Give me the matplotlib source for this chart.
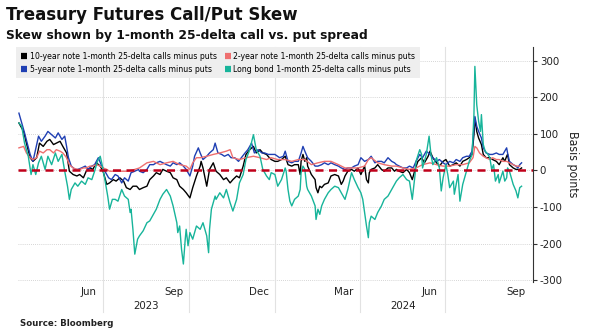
import matplotlib
matplotlib.use("Agg")
import matplotlib.pyplot as plt
import matplotlib.transforms as mtransforms
from matplotlib import font_manager as fm
import pandas as pd

START = "2023-04-02"

# 10-year note (black): day offsets from START and values (bp)
ten_days = [0, 5, 8, 12, 15, 19, 22, 26, 30, 33, 37, 40, 44, 47, 51, 54, 58, 62, 65, 69, 72, 76, 79, 83, 87, 90, 94, 97, 101, 104, 108, 112, 115, 119, 122, 126,
            129, 133, 137, 140, 144, 147, 151, 154, 158, 162, 165, 169, 172, 176, 179, 183, 186, 190, 194, 195, 197, 201, 204, 208, 211, 215, 219, 222, 226, 229, 233, 236, 240, 243, 247, 251, 254, 258, 261, 265, 268,
            270, 274, 277, 281, 285, 288, 292, 295, 299, 301, 302, 304, 306, 308, 309, 313, 317, 318, 320, 322, 324, 327, 331, 334, 338, 342, 345, 347, 349, 352, 356, 359, 363, 366, 370, 372, 374, 375, 377, 381, 384, 388, 391, 395, 399, 402,
            404, 407, 411, 415, 418, 421, 424, 427, 431, 434, 438, 440, 443, 447, 450, 454, 457, 461, 465, 468, 472, 475, 479, 482, 485, 487, 488, 490, 492, 495, 497, 500, 504, 507, 511, 514, 518, 520, 522, 523, 525, 529, 532, 536, 538]
ten_vals = [130, 107, 75, 35, 25, 35, 75, 66, 80, 85, 71, 75, 80, 66, 48, -2, -11, -15, -11, -20, -2, 7, 3, 21, 12, -2, -38, -34, -25, -29, -20, -29, -47, -52, -43, -43,
            -52, -47, -43, -25, -15, -6, -11, 3, -2, -6, -20, -25, -43, -52, -61, -75, -47, -15, 12, 25, 7, -43, 3, 21, -2, -11, -25, -20, -34, -25, -15, -20, 12, 44, 57, 66, 48, 57, 48, 44, 35,
            30, 25, 25, 30, 39, 16, 12, 16, 16, -11, 25, 44, 25, 35, 12, -11, -25, -47, -61, -43, -47, -38, -34, -15, -11, -15, -38, -29, -15, -2, 3, -2, 7, -11, 12, -25, -34, -6, 3, 7, 16, 3, -2, 7, 7, -2,
            3, -2, -6, 3, -6, -25, 3, 25, 35, 21, 39, 53, 35, 21, 12, 25, 30, 12, 16, 21, 12, 25, 30, 35, 44, 98, 144, 107, 89, 71, 44, 35, 35, 30, 25, 16, 35, 25, 39, 44, 16, 7, 3, 3, 7]

# 2-year note (red)
two_days = [0, 5, 8, 12, 15, 19, 22, 26, 30, 33, 37, 40, 44, 47, 51, 54, 58, 62, 65, 69, 72, 76, 79, 83, 87, 90, 94, 97, 103, 110, 117, 124,
            129, 137, 144, 151, 158, 165, 172, 179, 183, 186, 190, 194, 201, 208, 215, 222, 226, 229, 236, 243, 251, 258, 265,
            270, 277, 285, 292, 299, 306, 313, 320, 327, 334, 342, 349, 356, 363, 370, 374, 377, 384, 391, 399,
            404, 411, 418, 425, 432, 440, 447, 454, 461, 468, 475, 482, 486, 488, 490, 493, 497, 500, 504, 507, 511, 514, 518, 522, 525, 529, 532, 536]
two_vals = [62, 66, 48, 35, 30, 35, 53, 48, 57, 57, 48, 57, 53, 48, 35, 16, 7, 3, 3, 7, 7, 12, 12, 16, 12, 7, 3, -2, -2, -2, -2, 3,
            7, 21, 25, 16, 21, 25, 16, 12, 3, 21, 35, 35, 39, 44, 48, 53, 57, 35, 30, 35, 39, 35, 30,
            35, 30, 30, 25, 30, 30, 16, 21, 25, 25, 16, 7, 7, 7, 12, 30, 35, 21, 16, 12,
            12, 7, 3, 7, 16, 21, 16, 12, 12, 16, 16, 21, 35, 66, 62, 48, 39, 35, 30, 35, 30, 30, 25, 25, 21, 16, 12, 12]

# 5-year note (blue)
five_days = [0, 6, 12, 15, 21, 24, 28, 31, 35, 39, 42, 46, 49, 51, 53, 56, 60, 63, 67, 71, 74, 78, 81, 85, 88, 92, 96, 99, 103, 106, 110, 113, 117, 120, 124, 128,
             129, 133, 137, 140, 144, 147, 151, 154, 158, 162, 165, 169, 172, 176, 179, 183, 186, 188, 192, 194, 197, 201, 204, 208, 210, 213, 217, 220, 224, 227, 231, 235, 238, 242, 245, 249, 252, 256, 260, 263, 267,
             274, 279, 283, 285, 288, 292, 295, 299, 302, 304, 306, 309, 313, 317, 320, 324, 327, 331, 334, 338, 342, 345, 349, 352, 356, 359, 363, 366, 370, 374, 377, 381, 384, 388, 391, 395, 399, 402,
             404, 407, 411, 415, 418, 422, 425, 429, 432, 436, 440, 443, 447, 450, 454, 457, 461, 465, 468, 472, 475, 479, 482, 485, 487, 488, 490, 492, 495, 497, 500, 504, 507, 511, 514, 518, 520, 522, 523, 525, 529, 532, 534, 536, 538]
five_vals = [157, 103, 44, 25, 94, 80, 94, 107, 98, 89, 103, 85, 94, 66, 35, 12, 3, 3, 7, 12, 3, 12, 16, 35, 16, -2, -20, -25, -11, -15, -34, -20, -29, -6, -2, 3,
             -2, -6, 3, 16, 16, 21, 25, 21, 16, 12, 21, 16, 21, 12, 3, -15, 12, 39, 62, 48, 30, 39, 48, 57, 75, 48, 44, 39, 44, 35, 35, 25, 35, 48, 57, 75, 48, 57, 48, 48, 44,
             44, 35, 39, 53, 25, 21, 25, 25, 48, 66, 53, 35, 25, 12, 12, 16, 21, 16, 21, 16, 12, 7, 3, 7, 7, 12, 16, 35, 25, 30, 39, 21, 25, 25, 21, 35, 25, 21,
             16, 12, 7, 7, 12, 7, 25, 44, 35, 53, 44, 35, 25, 30, 21, 16, 25, 21, 30, 25, 35, 39, 39, 53, 116, 148, 121, 107, 89, 62, 48, 44, 44, 48, 44, 44, 53, 62, 48, 25, 16, 12, 7, 16, 21]

# Long bond (teal)
long_days = [0, 3, 6, 10, 13, 15, 18, 21, 24, 28, 31, 35, 39, 42, 46, 49, 52, 54, 56, 60, 63, 67, 71, 74, 78, 81, 84, 87, 89, 92, 95, 97, 100, 103, 106, 110, 113, 117, 119, 120, 122, 124, 127,
             129, 133, 137, 140, 144, 147, 151, 154, 158, 162, 165, 169, 170, 172, 174, 176, 178, 179, 181, 183, 186, 190, 194, 197, 201, 203, 204, 206, 210, 211, 215, 219, 222, 226, 229, 233, 236, 240, 243, 247, 251, 254, 258, 261, 265, 268,
             270, 274, 277, 281, 285, 286, 288, 290, 292, 295, 299, 301, 302, 304, 306, 308, 309, 313, 317, 318, 320, 322, 324, 327, 331, 334, 338, 342, 345, 349, 352, 356, 359, 363, 366, 368, 370, 372, 374, 375, 377, 381, 384, 388, 391, 395, 399, 402,
             404, 407, 411, 415, 418, 421, 424, 425, 429, 431, 432, 434, 436, 439, 441, 443, 447, 450, 452, 454, 457, 459, 461, 465, 466, 468, 470, 472, 475, 479, 482, 485, 487, 488, 490, 492, 494, 495, 497, 499, 502, 504, 506, 508, 510, 513, 514, 518, 520, 522, 523, 525, 529, 532, 534, 536, 538]
long_vals = [130, 121, 75, 39, -11, 16, -11, 21, 39, 3, 39, 16, 48, 25, 44, -2, -43, -79, -52, -34, -43, -29, -38, -20, -25, -2, 25, 39, 16, -25, -70, -106, -79, -79, -84, -52, -70, -79, -115, -106, -161, -229, -188,
             -179, -165, -143, -138, -120, -106, -79, -65, -52, -70, -97, -143, -170, -152, -215, -256, -188, -161, -206, -170, -188, -152, -161, -143, -179, -225, -161, -106, -70, -79, -61, -75, -52, -88, -111, -79, -34, -11, 30, 57, 98, 57, 39, 3, -15, -25,
             -6, -11, -43, -25, 7, -2, -52, -84, -97, -79, -70, -52, -6, 12, 3, -43, -52, -70, -97, -134, -106, -120, -97, -79, -61, -52, -43, -47, -61, -79, -52, -6, -25, -47, -61, -79, -115, -152, -184, -143, -125, -134, -115, -97, -79, -70, -52, -38,
             -29, -20, -11, -25, -29, -79, -11, 25, 57, 44, 7, 25, 44, 94, 44, 16, 35, 7, -56, -20, 16, -11, -47, -29, -65, -38, -11, -84, -38, -2, 25, 44, 153, 285, 180, 135, 107, 153, 71, 53, 44, 35, 3, 16, -29, -11, -34, -2, -29, -20, 7, -2, -38, -56, -75, -47, -43]

series = [
    ("10-year note 1-month 25-delta calls minus puts", ten_days, ten_vals, "#000000"),
    ("5-year note 1-month 25-delta calls minus puts", five_days, five_vals, "#1f3fb3"),
    ("2-year note 1-month 25-delta calls minus puts", two_days, two_vals, "#ee6f6f"),
    ("Long bond 1-month 25-delta calls minus puts", long_days, long_vals, "#17b49a"),
]
draw_order = [2, 0, 1, 3]

month_labels = ["Jun", "Sep", "Dec", "Mar", "Jun", "Sep"]
month_label_dates = ["2023-06-15", "2023-09-15", "2023-12-15", "2024-03-15", "2024-06-15", "2024-09-15"]
quarter_starts = ["2023-07-01", "2023-10-01", "2024-01-01", "2024-04-01", "2024-07-01"]
year_labels = ["2023", "2024"]
year_label_dates = ["2023-08-16", "2024-05-17"]
yticks = [-300, -200, -100, 0, 100, 200, 300]


def narrow_font(size_narrow, size_normal):
    # look for a condensed sans face; otherwise plain DejaVu Sans at a smaller size
    for f in fm.fontManager.ttflist:
        if f.style == "normal" and f.weight in (400, "normal", "regular") and (
                f.stretch in ("condensed", "semi-condensed") or "Narrow" in f.name or "Condensed" in f.name):
            if any(k in f.name for k in ("DejaVu", "Liberation", "Roboto", "Open Sans", "Noto Sans")):
                return fm.FontProperties(fname=f.fname, size=size_narrow)
    return fm.FontProperties(family="DejaVu Sans", size=size_normal)


leg_font = narrow_font(6.25, 5.3)
tick_font = narrow_font(8.2, 7.4)
ylab_font = narrow_font(8.8, 8.0)

fig = plt.figure(figsize=(6.0, 3.36), dpi=100)
ax = fig.add_axes([0.03, 0.161, 0.858, 0.699])

start = pd.Timestamp(START)
handles = {}
for i in draw_order:
    name, d, v, c = series[i]
    dates = start + pd.to_timedelta(d, unit="D")
    ln, = ax.plot(dates, v, color=c, lw=1.0, zorder=3 + i * 0.1)
    handles[i] = ln

ax.axhline(0, color="#c0001a", lw=1.8, ls=(0, (3.2, 2.2)), zorder=5)

ax.set_xlim(pd.Timestamp("2023-04-01"), pd.Timestamp("2024-10-03"))
ax.set_ylim(-305, 338)

for y in yticks:
    ax.axhline(y, color="#c8c8c8", lw=0.6, ls=(0, (1, 1.5)), zorder=1)
for q in quarter_starts:
    ax.axvline(pd.Timestamp(q), ymin=-0.128, ymax=1, color="#e2e2e2", lw=0.8, zorder=1, clip_on=False)

ax.set_xticks([pd.Timestamp(t) for t in month_label_dates])
ax.set_xticklabels(month_labels, fontproperties=tick_font, color="#222222")
ax.tick_params(axis="x", length=0, pad=3.5)
trans = mtransforms.blended_transform_factory(ax.transData, ax.transAxes)
for lab, dt in zip(year_labels, year_label_dates):
    ax.text(pd.Timestamp(dt), -0.08, lab, transform=trans, ha="center", va="top",
            fontproperties=tick_font, color="#222222")

ax.yaxis.tick_right()
ax.set_yticks(yticks)
ax.set_yticklabels([str(t) for t in yticks], fontproperties=tick_font, color="#222222")
ax.tick_params(axis="y", length=3, width=0.8, direction="out", pad=2, color="#333333")
ax.yaxis.set_label_position("right")
ax.set_ylabel("Basis points", rotation=270, fontproperties=ylab_font, labelpad=12, color="#222222")

for s in ["top", "left", "bottom"]:
    ax.spines[s].set_visible(False)
ax.spines["right"].set_color("#333333")
ax.spines["right"].set_linewidth(0.8)

leg = ax.legend([handles[i] for i in range(4)], [series[i][0] for i in range(4)],
                loc="upper left", bbox_to_anchor=(-0.003, 1.0), ncol=2, prop=leg_font,
                frameon=True, facecolor="#eeeeee", edgecolor="none", fancybox=False,
                handlelength=0.7, handleheight=0.7, handletextpad=0.3, columnspacing=0.9,
                labelspacing=0.45, borderpad=0.55, borderaxespad=0.0)
leg.get_frame().set_alpha(1)
for h in leg.legend_handles:
    h.set_linewidth(4.5)
    h.set_solid_capstyle("butt")
leg.set_zorder(10)

fig.text(0.01, 0.955, "Treasury Futures Call/Put Skew", fontsize=12, fontweight="bold", va="center", ha="left", color="#111111")
fig.text(0.01, 0.895, "Skew shown by 1-month 25-delta call vs. put spread", fontsize=8.8, fontweight="bold", va="center", ha="left", color="#111111")
fig.text(0.033, 0.038, "Source: Bloomberg", fontsize=6.2, fontweight="bold", va="center", ha="left", color="#222222")

fig.savefig("out.png", dpi=100, facecolor="white")
